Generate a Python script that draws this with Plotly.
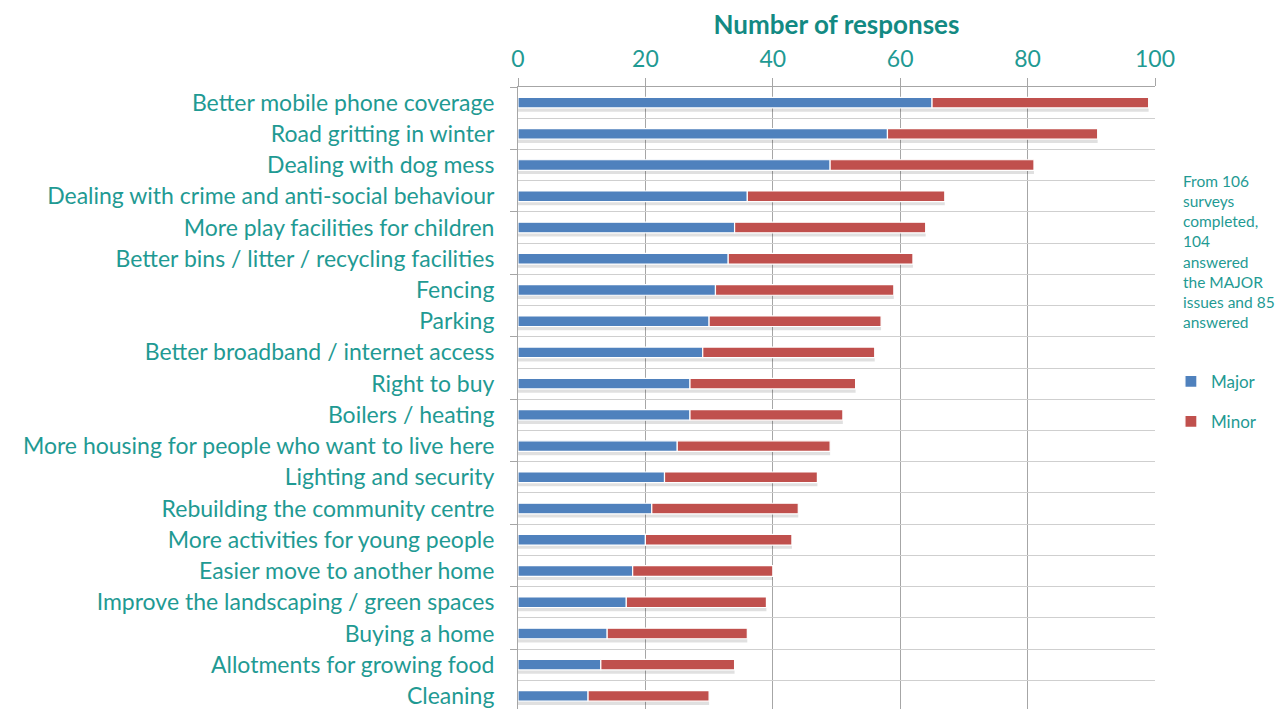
import plotly.graph_objects as go

categories = [
    "Better mobile phone coverage",
    "Road gritting in winter",
    "Dealing with dog mess",
    "Dealing with crime and anti-social behaviour",
    "More play facilities for children",
    "Better bins / litter / recycling facilities",
    "Fencing",
    "Parking",
    "Better broadband / internet access",
    "Right to buy",
    "Boilers / heating",
    "More housing for people who want to live here",
    "Lighting and security",
    "Rebuilding the community centre",
    "More activities for young people",
    "Easier move to another home",
    "Improve the landscaping / green spaces",
    "Buying a home",
    "Allotments for growing food",
    "Cleaning",
]
major = [65, 58, 49, 36, 34, 33, 31, 30, 29, 27, 27, 25, 23, 21, 20, 18, 17, 14, 13, 11]
minor = [34, 33, 32, 31, 30, 29, 28, 27, 27, 26, 24, 24, 24, 23, 23, 22, 22, 22, 21, 19]
x_ticks = [0, 20, 40, 60, 80, 100]
note = "From 106<br>surveys<br>completed,<br>104<br>answered<br>the MAJOR<br>issues and 85<br>answered"

TEAL = "#1f9a93"
FONT = "Lato"
totals = [a + b for a, b in zip(major, minor)]
BW = 0.34
YRANGE = [len(categories) - 0.58, -0.5]

fig = go.Figure()
# soft shadow under each bar
fig.add_trace(go.Bar(
    y=categories, x=totals, orientation="h", width=BW, offset=-BW / 2 + 0.12,
    marker=dict(color="rgba(0,0,0,0.12)", line=dict(width=0)),
    showlegend=False, hoverinfo="skip",
))
fig.add_trace(go.Bar(
    y=categories, x=major, orientation="h", name="Major", width=BW,
    marker=dict(color="#4f81bd", line=dict(color="white", width=1.2)),
    legendgroup="a",
))
fig.add_trace(go.Bar(
    y=categories, x=minor, base=major, orientation="h", name="Minor", width=BW,
    marker=dict(color="#c0504d", line=dict(color="white", width=1.2)),
    legendgroup="b",
))
# helper (empty) trace for the secondary y axis carrying the left tick marks
fig.add_trace(go.Scatter(x=[None], y=[None], yaxis="y2", showlegend=False,
                         hoverinfo="skip"))

fig.update_layout(
    width=1279, height=701,
    margin=dict(l=510, r=132, t=79, b=0),
    paper_bgcolor="white", plot_bgcolor="white",
    barmode="overlay",
    font=dict(family=FONT, color=TEAL),
    showlegend=True,
    legend=dict(
        x=1.025, y=0.555, xanchor="left", yanchor="top",
        font=dict(size=17, color=TEAL, family=FONT),
        tracegroupgap=15, traceorder="grouped", itemwidth=30,
        bgcolor="rgba(0,0,0,0)",
    ),
    xaxis=dict(
        side="top", range=[0, 100], tickvals=x_ticks,
        tickfont=dict(size=23, color=TEAL, family=FONT),
        showgrid=True, gridcolor="#a6a6a6", gridwidth=1,
        zeroline=False, showline=True, linecolor="#a6a6a6", mirror=False,
        ticks="outside", ticklen=8, tickcolor="#a6a6a6",
        ticklabelstandoff=2,
        title=dict(text="<b>Number of responses</b>", standoff=18,
                   font=dict(size=26, color="#138a83", family=FONT)),
    ),
    yaxis=dict(
        type="category", categoryorder="array", categoryarray=categories,
        range=YRANGE,
        tickson="boundaries", ticks="", showgrid=True, gridcolor="#cfcfcf",
        gridwidth=1, showline=True, linecolor="#a6a6a6",
        tickfont=dict(size=23, color=TEAL, family=FONT),
        ticklabelstandoff=18, zeroline=False,
    ),
    yaxis2=dict(
        overlaying="y", side="left", type="linear", range=YRANGE,
        tick0=-0.5, dtick=2, ticks="outside", ticklen=7, tickcolor="#a6a6a6",
        showticklabels=False, showgrid=False, zeroline=False, showline=False,
    ),
    annotations=[dict(
        text=note, xref="paper", yref="paper", x=1.041, y=0.867,
        xanchor="left", yanchor="top", align="left", showarrow=False,
        font=dict(size=15.5, color=TEAL, family=FONT),
    )],
)

fig.write_html("out.html")
